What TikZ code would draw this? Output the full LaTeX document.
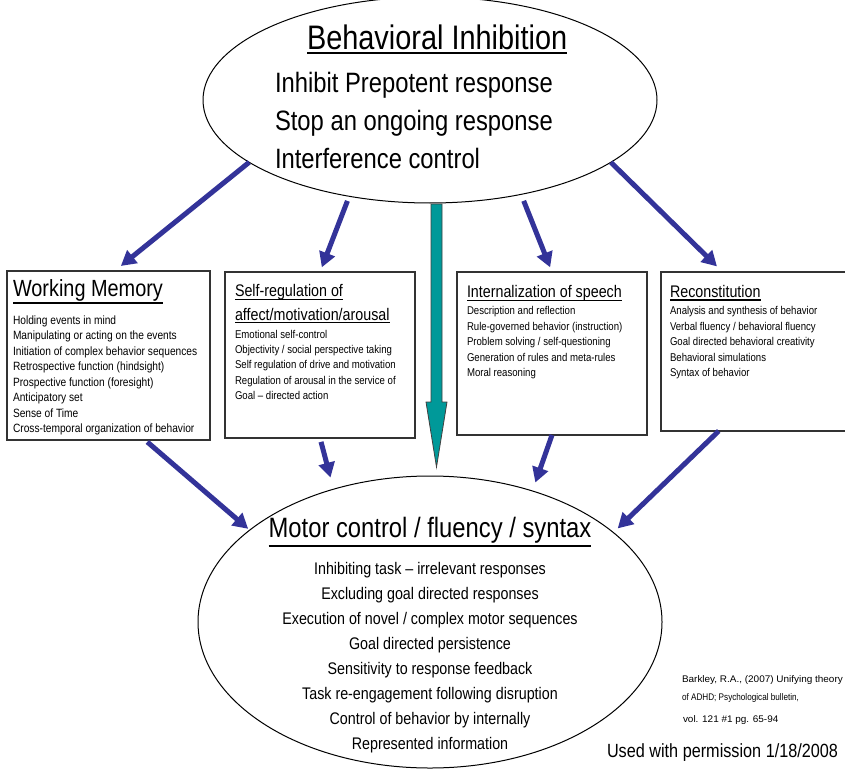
\documentclass[tikz,border=0pt]{standalone}
\usepackage{fontspec}
\setmainfont{Liberation Sans}[FakeStretch=0.85]
\usetikzlibrary{arrows.meta,shapes.geometric,calc}
\definecolor{arrowblue}{RGB}{51,51,153}
\definecolor{tealfill}{RGB}{0,153,153}
\begin{document}
\begin{tikzpicture}[x=1pt,y=-1pt,
  ell/.style={ellipse,draw=black,line width=1pt,fill=white,inner sep=0pt,outer sep=0pt},
  box/.style={rectangle,draw=black!80,line width=1.2pt,fill=white,inner sep=0pt,outer sep=0pt},
  txt/.style={inner sep=0pt,outer sep=0pt,anchor=base west},
  bititle/.style={txt,font=\fontsize{34}{40}\selectfont},
  bibody/.style={txt,font=\fontsize{28}{34}\selectfont},
  wmtitle/.style={txt,font=\fontsize{23.4}{28}\selectfont},
  wmitem/.style={txt,font=\fontsize{12}{14}\selectfont},
  subtitle/.style={txt,font=\fontsize{16.8}{20}\selectfont},
  subitem/.style={txt,font=\fontsize{11.3}{13}\selectfont},
  mctitle/.style={txt,anchor=base,font=\fontsize{28}{34}\selectfont},
  mcitem/.style={txt,anchor=base,font=\fontsize{16.8}{20}\selectfont},
  reftext/.style={txt,font=\fontsize{9.6}{11}\selectfont},
  permtext/.style={txt,font=\fontsize{19.1}{23}\selectfont},
  ul/.style={draw=black,line width=2pt},
  ulsmall/.style={draw=black,line width=1.5pt},
  bluearrow/.style={draw=arrowblue,line width=5pt,-{Triangle[length=15pt,width=16pt]}},
  tealarrow/.style={fill=tealfill,draw=black!75,line width=0.8pt}
]
\fill[white] (0,0) rectangle (845,773);
\useasboundingbox (0,0) rectangle (845,773);

% ellipses
\node[ell,minimum width=454pt,minimum height=206pt] (bi) at (430,100) {};
\node[ell,minimum width=464pt,minimum height=292pt] (mc) at (430,622) {};

% boxes
\node[box,minimum width=203pt,minimum height=169pt] (wm) at (108.5,355.5) {};
\node[box,minimum width=190pt,minimum height=166pt] (sr) at (320,355) {};
\node[box,minimum width=190pt,minimum height=163pt] (is) at (552,353.5) {};
\node[box,minimum width=199pt,minimum height=159pt] (rc) at (760.5,351.5) {};

% teal arrow
\coordinate (ts) at ($(bi.south)+(6.5,1)$);
\coordinate (te) at ($(mc.north)+(6.5,-9)$);
\path[tealarrow] ($(ts)+(-5.5,0)$) -- ($(ts)+(5.5,0)$) -- ($(te)+(5.5,-65)$)
  -- ($(te)+(10.5,-65)$) -- (te) -- ($(te)+(-10.5,-65)$) -- ($(te)+(-5.5,-65)$) -- cycle;

% blue arrows: top ellipse to boxes
\draw[bluearrow,shorten >=8pt] (bi.199) -- ($(wm.north west)!0.53!(wm.north east)$);
\draw[bluearrow,shorten <=5pt,shorten >=5pt] (bi.230) -- (sr.north);
\draw[bluearrow,shorten <=7pt,shorten >=5pt] (bi.314) -- (is.north);
\draw[bluearrow,shorten >=8pt] (bi.341) -- ($(rc.north west)!0.31!(rc.north east)$);
% boxes to bottom ellipse
\draw[bluearrow,shorten <=3pt,shorten >=2pt] ($(wm.south west)!0.68!(wm.south east)$) -- (mc.153);
\draw[bluearrow,shorten <=4pt,shorten >=12pt] (sr.south) -- (mc.126);
\draw[bluearrow,shorten >=9pt] (is.south) -- (mc.52);
\draw[bluearrow,shorten >=6pt] ($(rc.south west)!0.29!(rc.south east)$) -- (mc.26);

% top ellipse text
\node[bititle] (bit) at (307,49.3) {Behavioral Inhibition};
\draw[ul] ([yshift=-3.4pt]bit.base west) -- ([yshift=-3.4pt]bit.base east);
\node[bibody] (bi1) at (275,93) {Inhibit Prepotent response};
\node[bibody] (bi2) at (275,131) {Stop an ongoing response};
\node[bibody] (bi3) at (275,168) {Interference control};

% working memory
\node[wmtitle] (wmt) at (13,296.5) {Working Memory};
\draw[ulsmall] ([yshift=-6.6pt]wmt.base west) -- ([yshift=-6.6pt]wmt.base east);
\foreach \t [count=\i] in {{Holding events in mind},{Manipulating or acting on the events},{Initiation of complex behavior sequences},{Retrospective function (hindsight)},{Prospective function (foresight)},{Anticipatory set},{Sense of Time},{Cross-temporal organization of behavior}}
  \node[wmitem] (wm-\i) at (13,{308.8+15.5*\i}) {\t};

% self-regulation
\node[subtitle] (srt1) at (235,296) {Self-regulation of};
\draw[ulsmall] ([yshift=-3.7pt]srt1.base west) -- ([yshift=-3.7pt]srt1.base east);
\node[subtitle] (srt2) at (235,320) {affect/motivation/arousal};
\draw[ulsmall] ([yshift=-2.5pt]srt2.base west) -- ([yshift=-2.5pt]srt2.base east);
\foreach \t [count=\i] in {{Emotional self-control},{Objectivity / social perspective taking},{Self regulation of drive and motivation},{Regulation of arousal in the service of},{Goal – directed action}}
  \node[subitem] (sr-\i) at (235,{322.6+15.4*\i}) {\t};

% internalization of speech
\node[subtitle] (ist) at (467,297.3) {Internalization of speech};
\draw[ulsmall] ([yshift=-3.4pt]ist.base west) -- ([yshift=-3.4pt]ist.base east);
\foreach \t [count=\i] in {{Description and reflection},{Rule-governed behavior (instruction)},{Problem solving / self-questioning},{Generation of rules and meta-rules},{Moral reasoning}}
  \node[subitem] (is-\i) at (467,{299.2+15.5*\i}) {\t};

% reconstitution
\node[subtitle] (rct) at (670,297) {Reconstitution};
\draw[ulsmall] ([yshift=-3.2pt]rct.base west) -- ([yshift=-3.2pt]rct.base east);
\foreach \t [count=\i] in {{Analysis and synthesis of behavior},{Verbal fluency / behavioral fluency},{Goal directed behavioral creativity},{Behavioral simulations},{Syntax of behavior}}
  \node[subitem] (rc-\i) at (670,{299.2+15.5*\i}) {\t};

% motor control ellipse text
\node[mctitle] (mct) at (430,537) {Motor control / fluency / syntax};
\draw[ul] ([yshift=-9pt]mct.base west) -- ([yshift=-9pt]mct.base east);
\foreach \t [count=\i] in {{Inhibiting task – irrelevant responses},{Excluding goal directed responses},{Execution of novel / complex motor sequences},{Goal directed persistence},{Sensitivity to response feedback},{Task re-engagement following disruption},{Control of behavior by internally},{Represented information}}
  \node[mcitem] (mc-\i) at (430,{549.3+25*\i}) {\t};

% reference and permission
\node[reftext] (ref1) at (682,682) {\scalebox{1.22}[1]{Barkley, R.A., (2007) Unifying theory}};
\node[reftext] (ref2) at (682,700) {of ADHD; Psychological bulletin,};
\node[reftext] (ref3) at (683,722) {\scalebox{1.22}[1]{vol. 121 \#1 pg. 65-94}};
\node[permtext] (perm) at (607,757.5) {Used with permission 1/18/2008};
\end{tikzpicture}
\end{document}
